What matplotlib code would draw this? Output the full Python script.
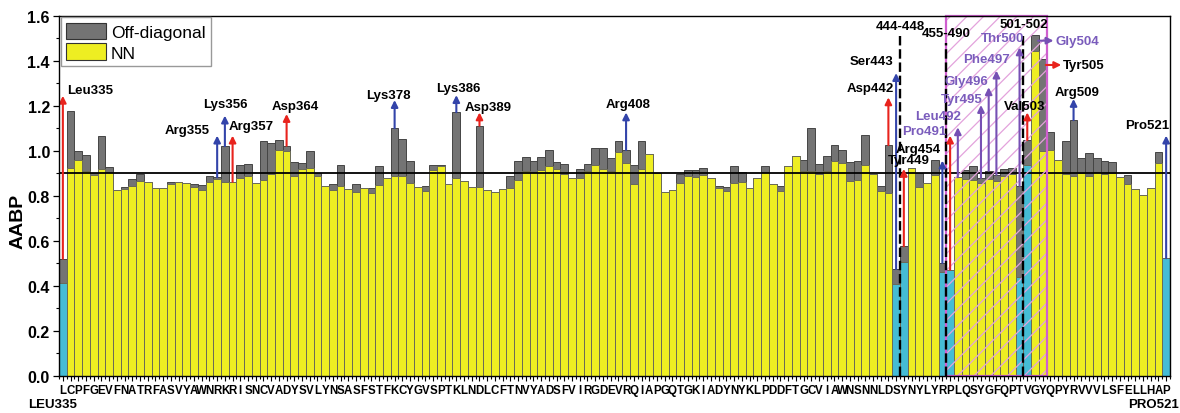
import matplotlib
matplotlib.use('Agg')
import matplotlib.pyplot as plt
import numpy as np
from matplotlib.patches import Rectangle, Patch

# ---------------- data ----------------
residues = (list(range(335, 444)) + list(range(449, 455)) +
            list(range(491, 501)) + list(range(503, 522)))
letters = ("LCPFGEVFNATRFASVYAWNRKRISNCVADYSVLYNSASFSTFKCYGVSPTKLNDLCFTNVYADSFVIRGDEVRQIAPGQTGKIADYNYKLPDDFTGCVIAWNSNNLDS"
           "YNYLYR" "PLQSYGFQPT" "VGYQPYRVVVLSFELLHAP")

nn = [0.41, 0.922, 0.96, 0.908, 0.892, 0.919, 0.904, 0.825, 0.83, 0.845,
      0.864, 0.86, 0.833, 0.836, 0.851, 0.862, 0.857, 0.84, 0.825, 0.86,
      0.875, 0.86, 0.862, 0.88, 0.889, 0.855, 0.871, 0.896, 1.003, 0.997,
      0.886, 0.919, 0.922, 0.886, 0.845, 0.825, 0.845, 0.83, 0.815, 0.833,
      0.812, 0.849, 0.877, 0.889, 0.889, 0.857, 0.84, 0.822, 0.916, 0.93,
      0.852, 0.879, 0.864, 0.84, 0.84, 0.825, 0.815, 0.83, 0.836, 0.871,
      0.911, 0.907, 0.916, 0.93, 0.919, 0.896, 0.877, 0.877, 0.911, 0.936,
      0.919, 0.911, 0.996, 0.945, 0.852, 0.919, 0.985, 0.90, 0.818, 0.827,
      0.855, 0.886, 0.884, 0.892, 0.879, 0.834, 0.822, 0.857, 0.862, 0.833,
      0.877, 0.904, 0.852, 0.822, 0.93, 0.975, 0.911, 0.911, 0.896, 0.911,
      0.953, 0.945, 0.867, 0.87, 0.938, 0.896, 0.822, 0.812, 0.408, 0.504,
      0.923, 0.837, 0.856, 0.89, 0.462, 0.471, 0.882, 0.874, 0.87, 0.856,
      0.874, 0.864, 0.889, 0.896, 0.437, 0.938, 1.444, 1.0, 1.004, 0.96,
      0.897, 0.889, 0.901, 0.889, 0.904, 0.897, 0.901, 0.882, 0.852, 0.83,
      0.805, 0.834, 0.945, 0.522]

offdiag = [0.52, 1.178, 0.997, 0.982, 0.90, 1.064, 0.926, 0.825, 0.84, 0.874,
           0.896, 0.86, 0.833, 0.836, 0.862, 0.862, 0.857, 0.852, 0.849, 0.886,
           0.882, 1.02, 0.862, 0.936, 0.942, 0.855, 1.044, 1.033, 1.049, 1.022,
           0.948, 0.945, 1.0, 0.90, 0.845, 0.852, 0.936, 0.83, 0.852, 0.833,
           0.836, 0.93, 0.877, 1.10, 1.052, 0.953, 0.84, 0.845, 0.938, 0.936,
           0.852, 1.171, 0.864, 0.84, 1.111, 0.825, 0.815, 0.83, 0.886, 0.953,
           0.97, 0.953, 0.973, 1.004, 0.951, 0.94, 0.877, 0.919, 0.94, 1.012,
           1.012, 0.968, 1.044, 1.003, 0.936, 1.044, 0.985, 0.90, 0.818, 0.827,
           0.896, 0.914, 0.914, 0.922, 0.879, 0.845, 0.84, 0.933, 0.907, 0.833,
           0.877, 0.933, 0.852, 0.845, 0.93, 0.975, 0.959, 1.101, 0.941, 0.978,
           1.027, 1.004, 0.951, 0.954, 1.071, 0.896, 0.842, 1.025, 0.474, 0.575,
           0.923, 0.90, 0.856, 0.96, 0.501, 0.471, 0.882, 0.916, 0.933, 0.879,
           0.911, 0.893, 0.919, 0.922, 0.844, 1.047, 1.514, 1.408, 1.084, 0.96,
           1.042, 1.136, 0.966, 0.988, 0.966, 0.953, 0.951, 0.882, 0.892, 0.83,
           0.805, 0.834, 0.993, 0.522]

# vertical arrows: residue, name, arrow head value
arrow_res = [335, 355, 356, 357, 364, 378, 386, 389, 408, 442, 443, 449, 454,
             491, 492, 495, 496, 497, 500, 503, 509, 521]
arrow_names = ["Leu335", "Arg355", "Lys356", "Arg357", "Asp364", "Lys378", "Lys386",
               "Asp389", "Arg408", "Asp442", "Ser443", "Tyr449", "Arg454", "Pro491",
               "Leu492", "Tyr495", "Gly496", "Phe497", "Thr500", "Val503", "Arg509",
               "Pro521"]
arrow_head = [1.244, 1.067, 1.156, 1.067, 1.163, 1.225, 1.247, 1.17, 1.17, 1.237,
              1.345, 0.919, 0.956, 1.067, 1.104, 1.203, 1.282, 1.356, 1.459, 1.17,
              1.23, 1.067]
arrow_kind = ["r", "b", "b", "r", "r", "b", "b", "r", "b", "r", "b", "r", "b",
              "r", "p", "p", "p", "p", "p", "r", "b", "b"]
label_kind = ["k", "k", "k", "k", "k", "k", "k", "k", "k", "k", "k", "k", "k",
              "p", "p", "p", "p", "p", "p", "k", "k", "k"]
# label placement (offset in bars from arrow, value)
label_dx = [3.5, -3.9, 0.0, 2.4, 1.1, -0.8, 0.2, 1.1, 0.2, -2.4, -3.2, 0.6, -3.1,
            -3.3, -2.5, -2.5, -2.9, -1.3, -2.2, -0.3, 0.4, -2.5]
label_y = [1.27, 1.09, 1.207, 1.11, 1.197, 1.247, 1.277, 1.193, 1.207, 1.277,
           1.40, 0.959, 1.008, 1.086, 1.153, 1.23, 1.311, 1.407, 1.501, 1.197,
           1.262, 1.114]

# horizontal arrows
harrow_res = [504, 505]
harrow_names = ["Gly504", "Tyr505"]
harrow_y = [1.489, 1.381]
harrow_kind = ["p", "r"]
harrow_text = ["p", "k"]

colors = {"r": "#e8231d", "b": "#3344aa", "p": "#7650b4", "k": "black"}
text_colors = {"p": "#7a5cbc", "k": "black"}

# ---------------- figure ----------------
plt.rcParams['font.family'] = ['Liberation Sans', 'DejaVu Sans']
plt.rcParams['hatch.linewidth'] = 0.9

fig = plt.figure(figsize=(11.8, 4.14), dpi=100)
ax = fig.add_axes([59 / 1180, 1 - 376.7 / 414, 1111 / 1180, 360 / 414])

x = np.arange(len(residues))
pos = {r: i for i, r in enumerate(residues)}
rset = set(residues)
is_end = [(r - 1 not in rset) or (r + 1 not in rset) for r in residues]
fills = ['#45bcd5' if e else '#eeee22' for e in is_end]

ax.bar(x, offdiag, width=1.0, color='#747474', edgecolor='#454545', linewidth=0.7, zorder=2)
ax.bar(x, nn, width=1.0, color=fills, edgecolor='#6a6a58', linewidth=0.7, zorder=3)

ax.axhline(0.9, color='black', lw=1.3, zorder=4)

# hatched region (Pro491 .. Tyr505)
x0 = pos[491] - 0.5
x1 = pos[505] + 0.5
ax.add_patch(Rectangle((x0, 0), x1 - x0, 1.6, fill=False, hatch='//',
                       edgecolor='#e3a2dc', linewidth=0, zorder=5))
ax.add_patch(Rectangle((x0, 0), x1 - x0, 1.6, fill=False,
                       edgecolor='#cf5fcf', linewidth=1.6, zorder=5, clip_on=False))

# gap dashed lines
gap_label_y = [1.556, 1.522, 1.563]
gap_line_top = [1.52, 1.48, 1.52]
g = 0
for i in range(len(residues) - 1):
    a, b = residues[i], residues[i + 1]
    if b - a > 1:
        xb = i + 0.5
        ax.plot([xb, xb], [0, gap_line_top[g]], color='black', lw=1.7,
                ls=(0, (4, 1.6)), zorder=6)
        ax.text(xb, gap_label_y[g], f"{a + 1}-{b - 1}", ha='center', va='center',
                fontsize=9.5, fontweight='bold', zorder=7)
        g += 1

# vertical arrows
for r, name, hy, ak, lk, dx, ly in zip(arrow_res, arrow_names, arrow_head, arrow_kind,
                                       label_kind, label_dx, label_y):
    i = pos[r]
    base = max(nn[i], offdiag[i])
    ax.annotate('', xy=(i, hy), xytext=(i, base),
                arrowprops=dict(arrowstyle='-|>', color=colors[ak], lw=1.5,
                                mutation_scale=10, shrinkA=0, shrinkB=0),
                zorder=8)
    ax.text(i + dx, ly, name, ha='center', va='center', fontsize=9.5,
            fontweight='bold', color=text_colors[lk], zorder=9)

# horizontal arrows
for r, name, hy, ak, tk in zip(harrow_res, harrow_names, harrow_y, harrow_kind, harrow_text):
    i = pos[r]
    ax.annotate('', xy=(i + 2.4, hy), xytext=(i + 0.4, hy),
                arrowprops=dict(arrowstyle='-|>', color=colors[ak], lw=1.5,
                                mutation_scale=10, shrinkA=0, shrinkB=0),
                zorder=8)
    ax.text(i + 2.6, hy, name, ha='left', va='center', fontsize=9.5,
            fontweight='bold', color=text_colors[tk], zorder=9)

# axes
ax.set_xlim(-0.5, len(residues) - 0.5)
ax.set_ylim(0, 1.6)
ax.set_xticks(x)
ax.set_xticklabels(list(letters), fontsize=8.3, fontweight='bold')
ax.set_xticks(np.arange(len(residues) + 1) - 0.5, minor=True)
ax.tick_params(axis='x', which='major', length=3.5, width=0.8, pad=2.5)
ax.tick_params(axis='x', which='minor', length=2.2, width=0.8)
ax.set_yticks(np.arange(0, 1.61, 0.2))
ax.set_yticklabels([f"{v:.1f}" for v in np.arange(0, 1.61, 0.2)],
                   fontsize=11.5, fontweight='bold')
ax.set_yticks(np.arange(0.1, 1.6, 0.2), minor=True)
ax.tick_params(axis='y', which='major', length=4.5, width=0.9, pad=2)
ax.tick_params(axis='y', which='minor', length=2.5, width=0.8)
for s in ax.spines.values():
    s.set_linewidth(1.0)
    s.set_zorder(10)

ax.text(-0.0365, 0.43, 'AABP', transform=ax.transAxes, rotation=90, ha='center',
        va='center', fontsize=14, fontweight='bold')

fig.text(28 / 1180, 1 - 405 / 414, 'LEU335', ha='left', va='center',
         fontsize=9.5, fontweight='bold')
fig.text(1179 / 1180, 1 - 405 / 414, 'PRO521', ha='right', va='center',
         fontsize=9.5, fontweight='bold')

handles = [Patch(facecolor='#747474', edgecolor='#333333', linewidth=0.8),
           Patch(facecolor='#eeee22', edgecolor='#333333', linewidth=0.8)]
leg = ax.legend(handles, ['Off-diagonal', 'NN'], loc='upper left',
                bbox_to_anchor=(0.0, 1.0), borderaxespad=0.1, fontsize=12.5,
                handlelength=2.3, handleheight=1.1, labelspacing=0.2,
                borderpad=0.3, handletextpad=0.3, fancybox=False, framealpha=1,
                edgecolor='#999999')
leg.set_zorder(11)

fig.savefig('out.png', dpi=100)
